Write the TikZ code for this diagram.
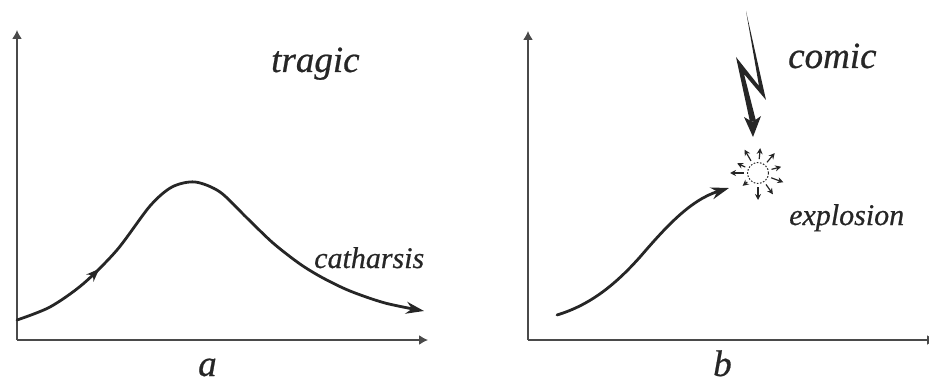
\documentclass[tikz,border=0pt]{standalone}
\usepackage{fontspec}
\usetikzlibrary{arrows.meta,decorations.markings}
\newfontfamily\labelfont[ItalicFeatures={FakeBold=0.6}]{Liberation Serif}
\definecolor{ink}{HTML}{262626}
\definecolor{axisgray}{HTML}{4A4A4A}
\begin{document}
\begin{tikzpicture}[x=1pt,y=-1pt,
  axisline/.style={draw=axisgray,line width=1.5pt,-{Latex[length=9pt,width=10pt]}},
  curve/.style={draw=ink,line width=2.8pt,line cap=round},
  lbl/.style={inner sep=0pt,text=ink,anchor=base west},
  bigfont/.style={font=\labelfont\fontsize{37}{40}\selectfont\itshape},
  midfont/.style={font=\labelfont\fontsize{30}{32}\selectfont\itshape},
  burst/.style={draw=ink,line width=1.2pt,-{Stealth[length=6pt,width=6pt]}}]
\useasboundingbox (0,0) rectangle (929,385);
% ---------- panel a ----------
\coordinate (oa) at (17,340);
\coordinate (ya) at (17,30);
\coordinate (xa) at (428,340);
\draw[axisline] (oa) -- (ya);
\draw[axisline] (oa) -- (xa);
\draw[curve,-{Stealth[length=18pt,width=12pt]},
  postaction={decorate},
  decoration={markings,mark=at position 98pt with {\arrow{Stealth[length=13pt,width=10pt]}}}]
  plot[smooth,tension=0.5] coordinates {(17,320) (50,307) (83,284) (117,250) (150,206) (172,187) (195,182) (220,192) (247,218) (273,243) (300,264) (323,278) (350,291) (385,303) (424,311)};
\node[lbl,bigfont] (tragic) at (271,72) {tragic};
\node[lbl,midfont] (cath) at (314,268) {catharsis};
\node[lbl,bigfont] (la) at (198,376) {a};
% ---------- panel b ----------
\coordinate (ob) at (528,340);
\coordinate (yb) at (528,31);
\coordinate (xb) at (936,340);
\draw[axisline] (ob) -- (yb);
\draw[axisline] (ob) -- (xb);
\draw[curve,-{Stealth[length=18pt,width=12pt]}]
  (557,315) .. controls (590,305) and (615,285) .. (640,257)
  .. controls (665,228) and (690,200) .. (729,188);
\node[draw=ink,dashed,dash pattern=on 1.6pt off 1.6pt,line width=1pt,circle,minimum size=21pt,inner sep=0pt] (boom) at (758,173) {};
\foreach \ang/\r in {90/27,55/26,20/27,-15/24,-50/26,-85/25,-120/27,-155/23,180/28,140/20}{
  \draw[burst] ([shift={(\ang:14)}]boom.center) -- ([shift={(\ang:\r)}]boom.center);
}
% lightning bolt
\coordinate (boltend) at (753,137);
\fill[ink] (746,11) -- (766,100) -- (744,74) -- (756,121) -- (750,122) -- (736,57) -- (759,86) -- cycle;
\fill[ink] (744,117) -- (752.5,122) -- (761,116) -- (boltend) -- cycle;
\node[lbl,bigfont] (comic) at (788,68) {comic};
\node[lbl,midfont] (expl) at (789,225) {explosion};
\node[lbl,bigfont] (lb) at (713,376) {b};
\end{tikzpicture}
\end{document}
